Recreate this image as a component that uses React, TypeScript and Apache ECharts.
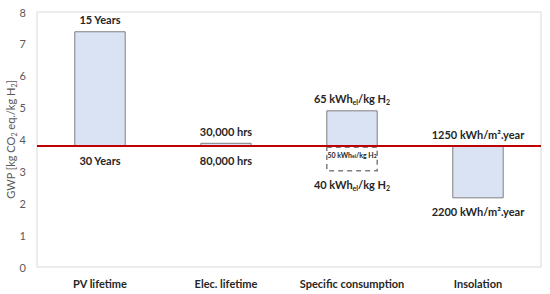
import React, { useEffect, useRef } from "react";
import * as echarts from "echarts";

const categories = ["PV lifetime", "Elec. lifetime", "Specific consumption", "Insolation"];
const baseValue = 3.79;
const solidValues = [7.38, 3.88, 4.9, 2.17];
const dashedValues: (number | null)[] = [null, null, 3.02, null];
const topLabels = ["15 Years", "30,000 hrs", "65 kWh{s|el}/kg H{s|2}", "1250 kWh/m².year"];
const bottomLabels = ["30 Years", "80,000 hrs", "40 kWh{s|el}/kg H{s|2}", "2200 kWh/m².year"];
const dashedLabel = "50 kWh{t|el}/kg H{t|2}";
const yTicks = { min: 0, max: 8, interval: 1 };

const FONT = "Lato, 'Open Sans', sans-serif";

export default function App() {
  const ref = useRef<HTMLDivElement>(null);
  useEffect(() => {
    if (!ref.current) return;
    const chart = echarts.init(ref.current, undefined, { renderer: "svg" });
    const rich = {
      s: { fontSize: 7, fontWeight: "bold", fontFamily: FONT, verticalAlign: "bottom", lineHeight: 9, fill: "#262626", color: "#262626" },
    };
    chart.setOption({
      animation: false,
      grid: {
        left: 37,
        right: 9,
        top: 12,
        bottom: 27,
        show: true,
        borderColor: "#d9d9d9",
        borderWidth: 1,
        containLabel: false,
        outerBoundsMode: "none",
      },
      xAxis: {
        type: "category",
        data: categories,
        axisLine: { show: false },
        axisTick: { show: false },
        axisLabel: { interval: 0, fontFamily: FONT, fontWeight: "bold", fontSize: 11, color: "#262626", margin: 11 },
      },
      yAxis: {
        type: "value",
        min: yTicks.min,
        max: yTicks.max,
        interval: yTicks.interval,
        splitLine: { show: false },
        axisLine: { show: false },
        axisTick: { show: false },
        axisLabel: { fontFamily: FONT, fontSize: 11, color: "#595959", margin: 11 },
        name: "GWP [kg CO{s|2} eq./kg H{s|2}]",
        nameLocation: "middle",
        nameGap: 20,
        nameRotate: 90,
        nameMoveOverlap: false,
        nameTextStyle: {
          fontFamily: FONT,
          fontSize: 11,
          color: "#595959",
          lineHeight: 13,
          rich: { s: { fontSize: 7, fontFamily: FONT, color: "#595959", verticalAlign: "bottom", lineHeight: 9 } },
        },
      },
      series: [
        {
          type: "custom",
          coordinateSystem: "cartesian2d",
          data: solidValues.map((v, i) => [i, v]),
          renderItem: (params: any, api: any) => {
            const i = api.value(0);
            const v = api.value(1);
            const p1 = api.coord([i, baseValue]);
            const p2 = api.coord([i, v]);
            const w = api.size([1, 0])[0] * 0.4;
            return {
              type: "rect",
              shape: { x: p1[0] - w / 2, y: Math.min(p1[1], p2[1]), width: w, height: Math.abs(p1[1] - p2[1]) },
              style: { fill: "#dae3f3", stroke: "#7f7f7f", lineWidth: 1 },
            };
          },
          markLine: {
            silent: true,
            symbol: "none",
            label: { show: false },
            lineStyle: { color: "#c00000", width: 2, type: "solid" },
            data: [{ yAxis: baseValue }],
          },
        },
        {
          type: "custom",
          coordinateSystem: "cartesian2d",
          data: dashedValues.map((v, i) => (v == null ? null : [i, v])).filter((d) => d),
          renderItem: (params: any, api: any) => {
            const i = api.value(0);
            const v = api.value(1);
            const p1 = api.coord([i, baseValue]);
            const p2 = api.coord([i, v]);
            const w = api.size([1, 0])[0] * 0.4;
            const top = Math.min(p1[1], p2[1]) + 1;
            return {
              type: "group",
              children: [
                {
                  type: "rect",
                  shape: { x: p1[0] - w / 2, y: top, width: w, height: Math.abs(p1[1] - p2[1]) - 1 },
                  style: { fill: "none", stroke: "#7f7f7f", lineWidth: 1.5, lineDash: [5, 4] },
                },
                {
                  type: "text",
                  x: p1[0],
                  y: top + 8,
                  style: {
                    text: dashedLabel,
                    fontFamily: FONT,
                    fontSize: 7,
                    fontWeight: "bold",
                    fill: "#262626",
                    align: "center",
                    verticalAlign: "middle",
                    rich: { t: { fontSize: 5, fontWeight: "bold", fontFamily: FONT, fill: "#262626", verticalAlign: "bottom", lineHeight: 6 } },
                  },
                },
              ],
            };
          },
        },
        {
          type: "custom",
          coordinateSystem: "cartesian2d",
          data: solidValues.map((v, i) => [i, v]),
          renderItem: (params: any, api: any) => {
            const i = api.value(0);
            const v = api.value(1);
            const d = dashedValues[i];
            const hi = Math.max(v, baseValue, d ?? -Infinity);
            const lo = Math.min(v, baseValue, d ?? Infinity);
            const pHi = api.coord([i, hi]);
            const pLo = api.coord([i, lo]);
            const mk = (text: string, x: number, y: number) => ({
              type: "text",
              x,
              y,
              style: {
                text,
                fontFamily: FONT,
                fontSize: 11,
                fontWeight: "bold",
                fill: "#262626",
                align: "center",
                verticalAlign: "middle",
                lineHeight: 13,
                rich,
              },
            });
            return {
              type: "group",
              children: [mk(topLabels[i], pHi[0], pHi[1] - 12), mk(bottomLabels[i], pLo[0], pLo[1] + 14)],
            };
          },
        },
      ],
    });
    return () => chart.dispose();
  }, []);
  return <div ref={ref} style={{ position: "absolute", left: 0, top: 0, width: 550, height: 294 }} />;
}
